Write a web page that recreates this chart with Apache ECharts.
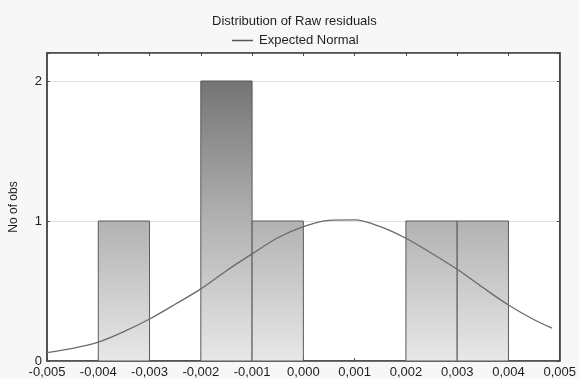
<!DOCTYPE html>
<html>
<head>
<meta charset="utf-8">
<title>Distribution of Raw residuals</title>
<script src="https://cdn.jsdelivr.net/npm/echarts@6/dist/echarts.min.js"></script>
<style>
html, body { margin: 0; padding: 0; background: #f7f7f7; }
#chart { width: 579px; height: 379px; }
</style>
</head>
<body>
<div id="chart"></div>
<script>
// histogram bins (lower edge, upper edge, count)
var binStart = [-0.004, -0.002, -0.001, 0.002, 0.003];
var binEnd   = [-0.003, -0.001,  0.000, 0.003, 0.004];
var binCount = [1, 2, 1, 1, 1];

// expected normal curve
var curveX = [-0.005, -0.0045, -0.004, -0.0035, -0.003, -0.0025, -0.002, -0.0015, -0.001, -0.0005,
              0.000, 0.0005, 0.001, 0.0015, 0.002, 0.0025, 0.003, 0.0035, 0.004, 0.0045, 0.00485];
var curveY = [0.06, 0.09, 0.135, 0.21, 0.30, 0.405, 0.515, 0.645, 0.765, 0.88,
              0.96, 1.005, 1.008, 0.96, 0.877, 0.77, 0.655, 0.525, 0.40, 0.295, 0.235];

var xTicks = { min: -0.005, max: 0.005, step: 0.001 };
var yTicks = { min: 0, max: 2.2, step: 1 };

function fmtX(v) {
    if (Math.abs(v) < 1e-9) v = 0;
    return v.toFixed(3).replace('.', ',');
}

var bars = [];
for (var i = 0; i < binCount.length; i++) {
    bars.push([binStart[i], binEnd[i], binCount[i]]);
}
var curve = [];
for (var j = 0; j < curveX.length; j++) {
    curve.push([curveX[j], curveY[j]]);
}

var myChart = echarts.init(document.getElementById('chart'));
var axisLine = { onZero: false, lineStyle: { color: '#4a4a4a', width: 1.5 } };
var axisTick = { inside: true, length: 3, lineStyle: { color: '#4a4a4a' } };
var option = {
    backgroundColor: '#f7f7f7',
    animation: false,
    textStyle: { fontFamily: 'Liberation Sans, Arial, sans-serif' },
    title: {
        text: 'Distribution of Raw residuals',
        left: 207,
        top: 10,
        textStyle: { fontSize: 13, fontWeight: 'normal', color: '#1e1e1e' }
    },
    legend: {
        top: 29,
        left: 227,
        itemWidth: 21,
        itemHeight: 1.5,
        itemGap: 6,
        itemStyle: { color: '#555' },
        textStyle: { fontSize: 13, color: '#1e1e1e', padding: [0, 0, 0, 1] },
        data: [{ name: 'Expected Normal', icon: 'rect' }]
    },
    grid: {
        left: 43, right: 18, top: 53, bottom: 18,
        show: true, backgroundColor: '#ffffff', borderColor: '#4a4a4a', borderWidth: 1.5
    },
    xAxis: [{
        type: 'value',
        min: xTicks.min, max: xTicks.max, interval: xTicks.step,
        axisLine: axisLine,
        axisTick: axisTick,
        axisLabel: { formatter: fmtX, color: '#1e1e1e', fontSize: 13, margin: 5 },
        splitLine: { show: false }
    }, {
        type: 'value', position: 'top',
        min: xTicks.min, max: xTicks.max, interval: xTicks.step,
        axisLine: axisLine,
        axisTick: axisTick,
        axisLabel: { show: false },
        splitLine: { show: false }
    }],
    yAxis: [{
        type: 'value',
        min: yTicks.min, max: yTicks.max, interval: yTicks.step,
        name: 'No of obs',
        nameLocation: 'middle',
        nameGap: 27,
        nameTextStyle: { fontSize: 12, color: '#1e1e1e' },
        axisLine: axisLine,
        axisTick: axisTick,
        axisLabel: {
            color: '#1e1e1e', fontSize: 13, margin: 5,
            formatter: function (v) { return v > 2 ? '' : String(v); }
        },
        splitLine: { show: true, lineStyle: { color: '#e2e2e2', width: 1 } }
    }, {
        type: 'value', position: 'right',
        min: yTicks.min, max: yTicks.max, interval: yTicks.step,
        axisLine: axisLine,
        axisTick: axisTick,
        axisLabel: { show: false },
        splitLine: { show: false }
    }],
    series: [{
        name: 'Counts',
        type: 'custom',
        xAxisIndex: 0, yAxisIndex: 0,
        data: bars,
        renderItem: function (params, api) {
            var p0 = api.coord([api.value(0), api.value(2)]);
            var p1 = api.coord([api.value(1), 0]);
            var top = api.coord([0, yTicks.max])[1];
            var bottom = api.coord([0, 0])[1];
            var yAt2 = api.coord([0, 2])[1];
            var yAt1 = api.coord([0, 1])[1];
            var h = bottom - top;
            return {
                type: 'rect',
                shape: { x: p0[0], y: p0[1], width: p1[0] - p0[0], height: p1[1] - p0[1] },
                style: {
                    fill: {
                        type: 'linear', global: true,
                        x: 0, y: top, x2: 0, y2: bottom,
                        colorStops: [
                            { offset: 0, color: '#6a6a6a' },
                            { offset: (yAt2 - top) / h, color: '#747474' },
                            { offset: (yAt1 - top) / h, color: '#b2b2b2' },
                            { offset: 1, color: '#e8e8e8' }
                        ]
                    },
                    stroke: '#5a5a5a',
                    lineWidth: 1
                }
            };
        },
        z: 2
    }, {
        name: 'Expected Normal',
        type: 'line',
        xAxisIndex: 0, yAxisIndex: 0,
        data: curve,
        smooth: 0.3,
        showSymbol: false,
        symbol: 'none',
        lineStyle: { color: '#6a6a6a', width: 1.3 },
        itemStyle: { color: '#6a6a6a' },
        z: 3
    }]
};
myChart.setOption(option);
</script>
</body>
</html>
